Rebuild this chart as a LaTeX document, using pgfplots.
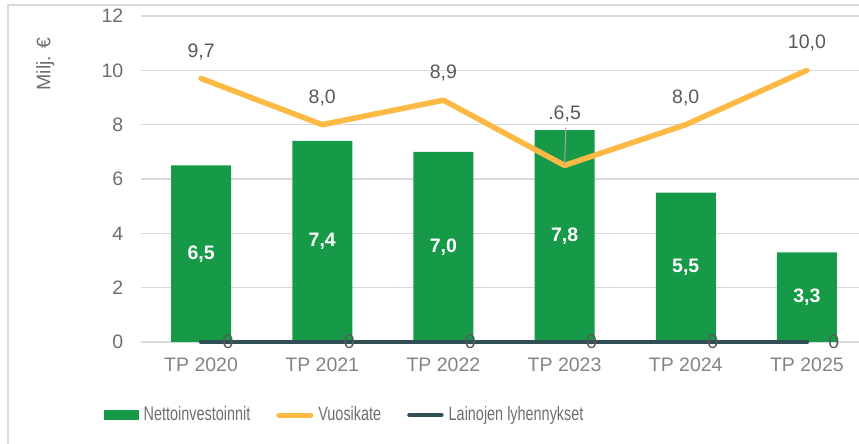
\documentclass[border=0pt]{standalone}
\usepackage{fontspec}
\setmainfont{Liberation Sans}
\newfontfamily\narrowfont[FakeStretch=0.74]{Liberation Sans}
\usepackage{pgfplots}
\pgfplotsset{compat=1.18}
\definecolor{barG}{HTML}{169A48}
\definecolor{lineO}{HTML}{FCB944}
\definecolor{lineD}{HTML}{2F4F54}
\definecolor{txt}{HTML}{595959}
\definecolor{tickc}{HTML}{6E6E6E}
\definecolor{gridc}{HTML}{D9D9D9}
\definecolor{leader}{HTML}{A6A6A6}

\begin{document}
\fontsize{19.5}{23}\selectfont
\begin{tikzpicture}
\useasboundingbox (0,0) rectangle (859pt,444pt);
\clip (0,0) rectangle (859pt,444pt);
\draw[gridc, line width=1.2pt] (8pt,-20pt) rectangle (900pt,439pt);
\begin{axis}[
    at={(140.5pt,102pt)}, anchor=south west,
    scale only axis, width=727pt, height=326pt,
    xmin=-0.5, xmax=5.5, ymin=0, ymax=12,
    clip=false,
    axis line style={draw=none},
    major tick length=0pt,
    ytick={0,2,...,12},
    xtick={0,...,5},
    xticklabels={TP 2020,TP 2021,TP 2022,TP 2023,TP 2024,TP 2025},
    ymajorgrids, grid style={gridc, line width=1.3pt},
    /pgf/number format/assume math mode=true,
    /pgf/number format/.cd, fixed, fixed zerofill, precision=1, use comma, /pgfplots/.cd,
    yticklabel style={text=tickc, inner sep=0pt, anchor=east, xshift=-17pt,
        /pgf/number format/precision=0},
    xticklabel style={text=tickc!85!white, inner sep=0pt, anchor=north, yshift=-16pt},
    ylabel={Milj. €},
    ylabel style={at={(axis description cs:-0.131,0.853)}, anchor=center, text=tickc},
    legend columns=3,
    legend style={at={(axis description cs:-0.0509,-0.224)}, anchor=west,
        draw=none, fill=none, inner sep=0pt, text=tickc,
        font={\narrowfont\fontsize{19.5}{23}\selectfont},
        nodes={inner sep=0pt, anchor=west},
        /tikz/every odd column/.style={column sep=5pt},
        /tikz/every even column/.style={column sep=26pt}},
]
% Nettoinvestoinnit
\addplot[ybar, bar width=60pt, fill=barG, draw=none,
    legend image code/.code={\fill[barG] (0pt,-5pt) rectangle (35pt,5pt);},
    nodes near coords,
    visualization depends on=rawy\as\rawy,
    every node near coord/.append style={shift={(axis direction cs:0,-\rawy/2)},
        anchor=center, text=white, font=\bfseries}]
    coordinates {(0,6.5) (1,7.4) (2,7.0) (3,7.8) (4,5.5) (5,3.3)};
\addlegendentry{Nettoinvestoinnit}
% Vuosikate
\addplot[lineO, line width=5.5pt, line cap=round, line join=round, mark=none,
    legend image code/.code={\draw[lineO, line width=5pt, line cap=round] (2.5pt,0pt) -- (34.5pt,0pt);}]
    coordinates {(0,9.7) (1,8.0) (2,8.9) (3,6.5) (4,8.0) (5,10.0)};
\addlegendentry{Vuosikate}
% Lainojen lyhennykset
\addplot[lineD, line width=4.5pt, line cap=round, mark=none,
    legend image code/.code={\draw[lineD, line width=4.5pt, line cap=round] (2.5pt,0pt) -- (34.5pt,0pt);}]
    coordinates {(0,0) (1,0) (2,0) (3,0) (4,0) (5,0)};
\addlegendentry{Lainojen lyhennykset}
% labels
\addplot[draw=none, mark=none, forget plot, nodes near coords,
    every node near coord/.append style={anchor=center, yshift=27pt, text=txt}]
    coordinates {(0,9.7) (1,8.0) (2,8.9) (4,8.0) (5,10.0)};
\draw[leader, line width=1pt] (axis cs:3,6.5) -- (axis cs:3.01,7.88);
\addplot[draw=none, mark=none, forget plot, nodes near coords={.6,5},
    every node near coord/.append style={anchor=center, yshift=51pt, text=txt}]
    coordinates {(3,6.5)};
\addplot[draw=none, mark=none, forget plot,
    nodes near coords={\pgfmathprintnumber[fixed,precision=0]{\pgfplotspointmeta}},
    every node near coord/.append style={anchor=center, xshift=27pt, text=txt}]
    coordinates {(0,0) (1,0) (2,0) (3,0) (4,0) (5,0)};
\end{axis}
\end{tikzpicture}
\end{document}
